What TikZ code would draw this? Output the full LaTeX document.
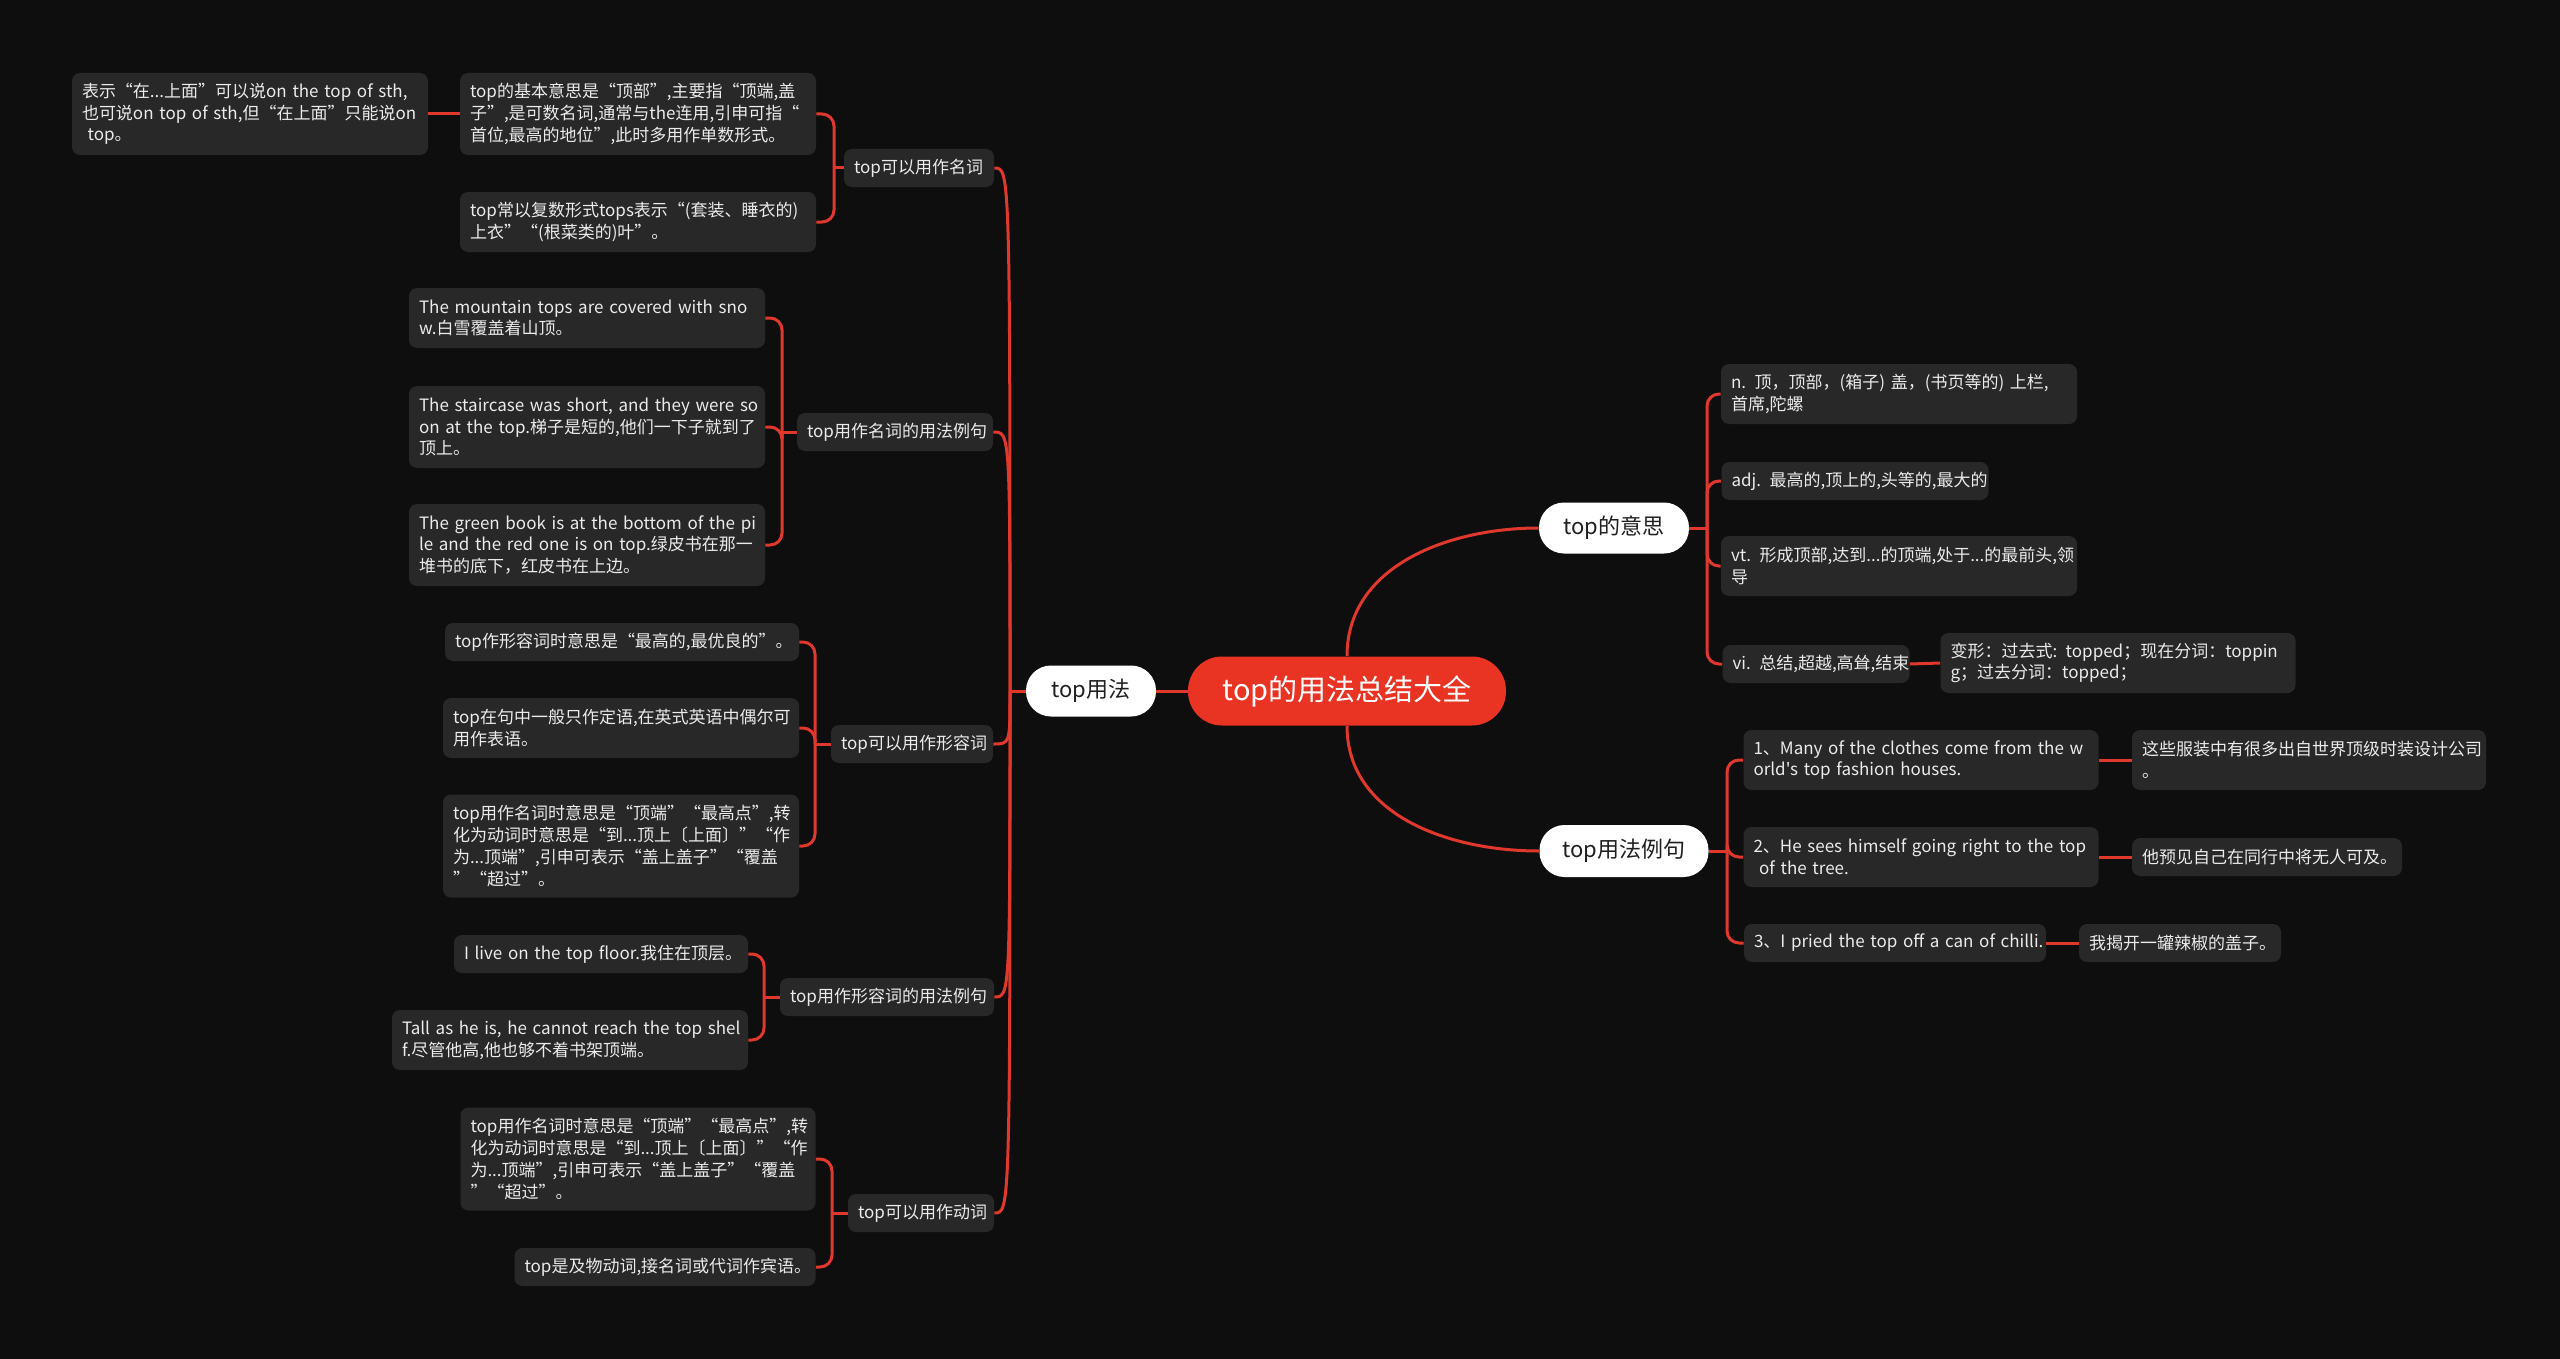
\documentclass[tikz,border=0pt]{standalone}
\usepackage{fontspec}
\setmainfont{Noto Sans CJK SC}[Ligatures=TeXOff]
\definecolor{bg}{HTML}{0E0E0E}
\definecolor{boxc}{HTML}{282828}
\definecolor{linec}{HTML}{E0382C}
\definecolor{redc}{HTML}{E93323}
\newcommand\mb[1]{\mbox{#1}}
\tikzset{
  leaf/.style={fill=boxc, text=white!92!black, rounded corners=4pt, align=left,
    inner xsep=5pt, inner ysep=0pt, font=\fontsize{8.5}{10.85}\selectfont},
  lone/.style={leaf, minimum height=19pt},
  ltwo/.style={leaf, minimum height=30pt},
  lthree/.style={leaf, minimum height=41pt},
  lfour/.style={leaf, minimum height=51.5pt},
  wd/.style={text width=#1},
  pill/.style={fill=white, text=black!88, rounded corners=12.5pt, inner sep=0pt,
    minimum height=25.5pt, font=\fontsize{11}{13}\selectfont},
  rootbox/.style={fill=redc, text=white, rounded corners=17pt, inner sep=0pt,
    minimum width=159pt, minimum height=34.5pt, font=\fontsize{14.5}{17}\selectfont},
  link/.style={draw=linec, line width=1.5pt},
  brk/.style={link, rounded corners=6pt}
}
\begin{document}
\begin{tikzpicture}[x=0.5pt,y=-0.5pt]
\fill[bg] (0,0) rectangle (2560,1359);
\useasboundingbox (0,0) rectangle (2560,1359);

% root and main branches
\node[rootbox] (root) at (1347,691) {top的用法总结大全};
\node[pill, minimum width=65pt] (L) at (1091,691) {top用法};
\node[pill, minimum width=75pt] (R1) at (1614,528) {top的意思};
\node[pill, minimum width=84.5pt, minimum height=26pt] (R2) at (1624,851) {top用法例句};

% left mid nodes
\node[lone, wd=65pt] (n1) at (919,168) {\mb{top可以用作名词}};
\node[lone, wd=88pt] (n2) at (895,432) {\mb{top用作名词的用法例句}};
\node[lone, wd=71pt] (n3) at (912,744) {\mb{top可以用作形容词}};
\node[lone, wd=97pt] (n4) at (887,997) {\mb{top用作形容词的用法例句}};
\node[lone, wd=63pt] (n5) at (921,1213) {\mb{top可以用作动词}};

% group 1
\node[lthree, wd=168pt] (lA) at (250,114) {\mb{表示“在...上面”可以说on the top of sth,}\\\mb{也可说on top of sth,但“在上面”只能说on}\\\mb{\ top。}};
\node[lthree, wd=168pt] (lB) at (638,114) {\mb{top的基本意思是“顶部”,主要指“顶端,盖}\\\mb{子”,是可数名词,通常与the连用,引申可指“}\\\mb{首位,最高的地位”,此时多用作单数形式。}};
\node[ltwo, wd=168pt] (lC) at (638,222) {\mb{top常以复数形式tops表示“(套装、睡衣的)}\\\mb{上衣”“(根菜类的)叶”。}};

% group 2
\node[ltwo, wd=168pt] (lD) at (587,318) {\mb{The mountain tops are covered with sno}\\\mb{w.白雪覆盖着山顶。}};
\node[lthree, wd=168pt] (lE) at (587,427) {\mb{The staircase was short, and they were so}\\\mb{on at the top.梯子是短的,他们一下子就到了}\\\mb{顶上。}};
\node[lthree, wd=168pt] (lF) at (587,545) {\mb{The green book is at the bottom of the pi}\\\mb{le and the red one is on top.绿皮书在那一}\\\mb{堆书的底下，红皮书在上边。}};

% group 3
\node[lone, wd=167pt] (lG) at (622,642) {\mb{top作形容词时意思是“最高的,最优良的”。}};
\node[ltwo, wd=168pt] (lH) at (621,728) {\mb{top在句中一般只作定语,在英式英语中偶尔可}\\\mb{用作表语。}};
\node[lfour, wd=168pt] (lI) at (621,846) {\mb{top用作名词时意思是“顶端”“最高点”,转}\\\mb{化为动词时意思是“到...顶上〔上面〕”“作}\\\mb{为...顶端”,引申可表示“盖上盖子”“覆盖}\\\mb{”“超过”。}};

% group 4
\node[lone, wd=137pt] (lJ) at (601,954) {\mb{I live on the top floor.我住在顶层。}};
\node[ltwo, wd=168pt] (lK) at (570,1040) {\mb{Tall as he is, he cannot reach the top shel}\\\mb{f.尽管他高,他也够不着书架顶端。}};

% group 5
\node[lfour, wd=167.5pt] (lL) at (638,1159) {\mb{top用作名词时意思是“顶端”“最高点”,转}\\\mb{化为动词时意思是“到...顶上〔上面〕”“作}\\\mb{为...顶端”,引申可表示“盖上盖子”“覆盖}\\\mb{”“超过”。}};
\node[lone, wd=140.5pt] (lM) at (665,1267) {\mb{top是及物动词,接名词或代词作宾语。}};

% right group: meanings
\node[ltwo, wd=168pt] (rN) at (1899,394) {\mb{n. 顶，顶部，(箱子) 盖，(书页等的) 上栏,}\\\mb{首席,陀螺}};
\node[lone, wd=123.5pt] (rO) at (1855,481) {\mb{adj. 最高的,顶上的,头等的,最大的}};
\node[ltwo, wd=168pt] (rP) at (1899,566) {\mb{vt. 形成顶部,达到...的顶端,处于...的最前头,领}\\\mb{导}};
\node[lone, wd=83.5pt] (rQ) at (1816,664) {\mb{vi. 总结,超越,高耸,结束}};
\node[ltwo, wd=167.5pt] (rR) at (2118,663) {\mb{变形：过去式: topped；现在分词：toppin}\\\mb{g；过去分词：topped；}};

% right group: examples
\node[ltwo, wd=167.5pt] (rS) at (1921,760) {\mb{1、Many of the clothes come from the w}\\\mb{orld's top fashion houses.}};
\node[ltwo, wd=167pt] (rS2) at (2309,760) {\mb{这些服装中有很多出自世界顶级时装设计公司}\\\mb{。}};
\node[ltwo, wd=167.5pt] (rT) at (1921,857) {\mb{2、He sees himself going right to the top}\\\mb{\ of the tree.}};
\node[lone, wd=125pt] (rT2) at (2267,857) {\mb{他预见自己在同行中将无人可及。}};
\node[lone, wd=141pt] (rU) at (1895,943) {\mb{3、I pried the top off a can of chilli.}};
\node[lone, wd=91pt] (rU2) at (2180,943) {\mb{我揭开一罐辣椒的盖子。}};

% joints
\coordinate (jL) at (1010,691);
\coordinate (j1) at (834,168);
\coordinate (j2) at (782,432);
\coordinate (j3) at (815,744);
\coordinate (j4) at (764,997);
\coordinate (j5) at (832,1213);
\coordinate (jR1) at (1707,528);
\coordinate (jR2) at (1727,851);

% root connectors
\draw[link] (root.west) -- (L.east);
\draw[link] (root.north) to[out=90,in=180] (R1.west);
\draw[link] (root.south) to[out=-90,in=180] (R2.west);

% top用法 trunk
\draw[link] (L.west) -- (jL);
\foreach \n in {n1,n2,n3,n4,n5}{
  \draw[link] (jL) .. controls (jL |- \n.east) .. (\n.east);
}

% left brackets
\draw[link] (n1.west) -- (j1);
\foreach \c in {lB,lC}{ \draw[brk] (j1) -- (j1 |- \c.east) -- (\c.east); }
\draw[link] (lA.east) -- (lB.west);

\draw[link] (n2.west) -- (j2);
\foreach \c in {lD,lE,lF}{ \draw[brk] (j2) -- (j2 |- \c.east) -- (\c.east); }

\draw[link] (n3.west) -- (j3);
\foreach \c in {lG,lH,lI}{ \draw[brk] (j3) -- (j3 |- \c.east) -- (\c.east); }

\draw[link] (n4.west) -- (j4);
\foreach \c in {lJ,lK}{ \draw[brk] (j4) -- (j4 |- \c.east) -- (\c.east); }

\draw[link] (n5.west) -- (j5);
\foreach \c in {lL,lM}{ \draw[brk] (j5) -- (j5 |- \c.east) -- (\c.east); }

% right brackets
\draw[link] (R1.east) -- (jR1);
\foreach \c in {rN,rO,rP,rQ}{ \draw[brk] (jR1) -- (jR1 |- \c.west) -- (\c.west); }
\draw[link] (rQ.east) -- (rR.west);

\draw[link] (R2.east) -- (jR2);
\foreach \c in {rS,rT,rU}{ \draw[brk] (jR2) -- (jR2 |- \c.west) -- (\c.west); }
\draw[link] (rS.east) -- (rS2.west);
\draw[link] (rT.east) -- (rT2.west);
\draw[link] (rU.east) -- (rU2.west);
\end{tikzpicture}
\end{document}
